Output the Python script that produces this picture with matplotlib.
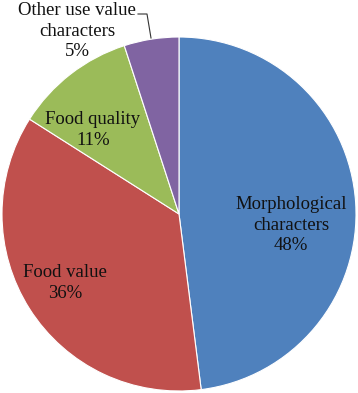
import matplotlib
matplotlib.use("Agg")
import matplotlib.pyplot as plt

# ------------ Data -----------------
labels = ["Morphological\ncharacters", "Food value", "Food quality",
          "Other use value\ncharacters"]
values = [48, 36, 11, 5]
colors = ["#4F81BD", "#C0504D", "#9BBB59", "#8064A2"]

W, H = 358, 393
CX, CY, R = 179, 214, 177  # pie centre / radius, pixels from top-left

# label centres, pixels from top-left
label_pos = [(291, 225), (65, 283), (93, 130), (77, 31)]

plt.rcParams['font.family'] = ['Liberation Serif', 'DejaVu Serif']

fig = plt.figure(figsize=(W / 100, H / 100), dpi=100)
ax = fig.add_axes([0, 0, 1, 1])
ax.pie(values, colors=colors, startangle=90, counterclock=False,
       center=(CX, H - CY), radius=R,
       wedgeprops=dict(edgecolor="white", linewidth=0.8))
ax.set_xlim(0, W)
ax.set_ylim(0, H)
ax.set_aspect("equal")
ax.axis("off")

for lab, v, (px, py) in zip(labels, values, label_pos):
    ax.text(px, H - py, "%s\n%d%%" % (lab, v), ha="center", va="center",
            fontsize=13.5, linespacing=1.3, color="#111111")

# leader line for the small slice
ax.plot([138, 147, 151], [H - 14, H - 14, H - 38], color="#333333", lw=0.8)

fig.savefig("out.png", dpi=100)
